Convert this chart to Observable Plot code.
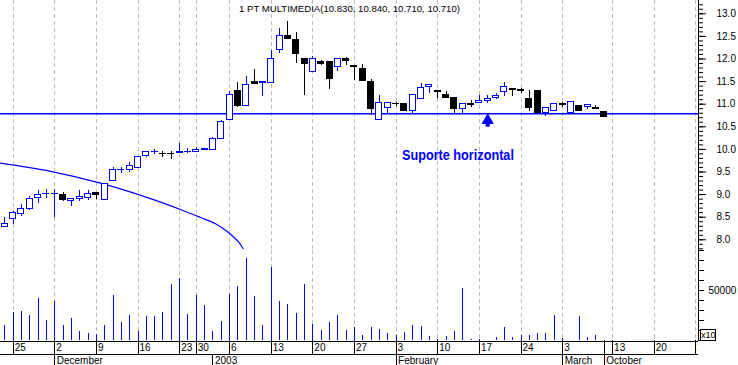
<!DOCTYPE html>
<html><head><meta charset="utf-8">
<script src="https://cdn.jsdelivr.net/npm/d3@7"></script>
<script src="https://cdn.jsdelivr.net/npm/@observablehq/plot@0.6"></script>
<style>
body{margin:0;background:#fff;}
#chart{width:738px;height:365px;position:relative;background:#fff;}
#chart svg{display:block;}
</style></head><body><div id="chart"></div>
<script>
const title = "1 PT MULTIMEDIA(10.830, 10.840, 10.710, 10.710)";
// daily OHLC + volume, index 0 = 22 Nov 2002
const openP = [8.28,8.45,8.57,8.68,8.93,9.015,9.015,9.00,8.86,8.90, 8.93,9.04,8.89,9.30,9.545,9.55,9.59,9.85,9.935,9.905, 9.905,9.93,9.945,9.94,9.98,9.99,10.23,10.66,11.30,10.95, 11.49,11.46,11.47,12.19,12.50,12.41,11.99,11.72,11.94,11.94, 11.82,12.00,11.835,11.78,11.49,10.66,10.92,11.005,11.00,10.86, 11.12,11.38,11.30,11.21,11.14,10.90,10.995,11.03,11.07,11.14, 11.28,11.34,11.305,11.12,11.29,10.80,10.84,10.995,10.80,10.97, 10.93,10.905,10.83];
const highP = [8.49,8.62,8.78,8.96,9.08,9.11,9.11,9.05,8.91,9.08, 9.08,9.05,9.24,9.59,9.61,9.70,9.85,9.95,9.99,9.96, 9.96,10.12,10.01,10.05,10.01,10.27,10.64,11.29,11.49,11.61, 11.76,11.50,12.19,12.67,12.84,12.58,11.99,12.05,11.97,11.94, 12.00,12.04,11.86,11.87,11.54,11.19,11.03,11.04,11.00,11.21, 11.45,11.43,11.30,11.29,11.14,11.01,11.08,11.19,11.19,11.23, 11.49,11.34,11.34,11.30,11.29,10.91,11.00,11.03,11.05,10.97, 10.99,10.97,10.84];
const lowP = [8.27,8.34,8.52,8.65,8.80,8.91,8.50,8.85,8.74,8.85, 8.87,8.89,8.89,9.30,9.46,9.48,9.59,9.81,9.88,9.81, 9.77,9.93,9.90,9.94,9.98,9.99,10.23,10.66,10.93,10.95, 11.44,11.16,11.47,12.13,12.45,11.89,11.19,11.72,11.86,11.32, 11.72,11.86,11.52,11.51,10.75,10.66,10.79,10.95,10.86,10.80, 11.12,11.24,11.12,11.13,10.79,10.79,10.93,11.03,11.01,11.10, 11.16,11.16,11.23,10.84,10.80,10.73,10.84,10.92,10.80,10.86, 10.88,10.90,10.71];
const closeP = [8.35,8.60,8.69,8.90,9.00,9.02,9.02,8.89,8.91,8.94, 9.02,9.00,9.24,9.55,9.55,9.63,9.84,9.94,9.94,9.90, 9.90,9.95,9.95,9.99,10.01,10.23,10.60,11.21,10.95,11.43, 11.44,11.49,12.00,12.50,12.45,12.10,11.89,12.00,11.89,11.55, 12.00,11.95,11.83,11.51,10.90,11.03,11.03,11.00,10.86,11.21, 11.36,11.43,11.27,11.13,10.90,11.01,10.99,11.08,11.12,11.19, 11.38,11.32,11.30,10.91,10.80,10.91,11.00,10.99,11.05,10.86, 10.99,10.90,10.71];
const volume = [15000,28300,29000,25000,42300,20000,39000,15000,22000,9300, 7000,6300,15000,45000,18300,25000,9000,24000,24000,28000, 56000,62000,26000,45000,35000,9000,19000,46000,54000,82300, 44000,15000,73000,39000,36000,27000,56000,16000,10000,18000, 25000,10000,13000,5000,13000,11000,7000,5000,8000,15000, 14000,4000,1500,4000,9000,52000,1000,1000,500,3000, 13000,3000,5000,5000,7300,6700,25000,1700,0,24000, 2700,5000,0];

// x-axis (trading-day index)
const dateIdx    = [1,6,11,16,21,23,27,32,37,42,47,52,57,62,67,72,73,78,83];
const dateLabels = ["25","2","9","16","23","30","6","13","20","27","3","10","17","24","3","","13","20","27"];
const monthIdx    = [6,25,47,67,72];
const monthLabels = ["December","2003","February","March","October"];

// right axes
const priceLabels = [8.0,8.5,9.0,9.5,10.0,10.5,11.0,11.5,12.0,12.5,13.0];
const priceMinor = d3.range(78, 133).map(v => v / 10);
const volumeTicks = [0,10000,20000,30000,40000,50000,60000,70000,80000,90000];
const volumeLabelTick = 50000;
const volumeUnit = "x10";

// annotations
const supportLevel = 10.79;
const curveIdx   = [-0.516,5.489,11.494,17.499,21.102,23.504,25.306,26.507,27.348,28.069,28.633];
const curvePrice = [9.695,9.514,9.253,8.912,8.671,8.494,8.355,8.211,8.085,7.952,7.802];
const note = "Suporte horizontal", noteIdx = 47.7, notePrice = 9.861;
const arrowIdx = 58, arrowHead = 10.64, arrowTail = 10.49;

const candles = openP.map((o, i) => ({i, o, h: highP[i], l: lowP[i], c: closeP[i], v: volume[i]}));
const curvePts = curveIdx.map((x, k) => ({x, y: curvePrice[k]}));
const gridIdx = dateIdx.filter((d, k) => dateLabels[k] !== "");

const W = 738, MR = 40;
const xDomain = [-0.5165, 83.318];
const BLUE = "#0000ff";
const GRID = "#bdbdbd";
const FONT = "'Liberation Sans', Arial, sans-serif";
const col = d => d.c >= d.o ? BLUE : "#000000";
const base = {width: W, marginLeft: 0, marginRight: MR, marginTop: 0, marginBottom: 0,
  style: {fontFamily: FONT, fontSize: "10px", color: "#000", background: "#fff", overflow: "visible"}};

const pricePlot = Plot.plot({
  ...base, height: 250,
  x: {domain: xDomain, axis: null},
  y: {domain: [7.763, 13.294], label: null},
  marks: [
    Plot.ruleX(gridIdx, {x: d => d, stroke: GRID, strokeDasharray: "4,3", shapeRendering: "crispEdges"}),
    Plot.ruleY([supportLevel], {y: d => d, stroke: BLUE, strokeWidth: 1.5}),
    Plot.line(curvePts, {x: "x", y: "y", stroke: BLUE, strokeWidth: 1.2, curve: "catmull-rom"}),
    Plot.ruleX(candles, {x: "i", y1: "l", y2: "h", stroke: col, shapeRendering: "crispEdges"}),
    Plot.rect(candles, {x1: d => d.i - 0.36, x2: d => d.i + 0.36, y1: "o", y2: "c",
      fill: d => d.c >= d.o ? "#ffffff" : "#000000", stroke: col, shapeRendering: "crispEdges"}),
    Plot.ruleX([arrowIdx], {x: d => d, y1: arrowTail, y2: arrowHead, stroke: BLUE, strokeWidth: 4}),
    Plot.dot([arrowIdx], {x: d => d, y: arrowHead, symbol: "triangle", r: 4.6, fill: BLUE, stroke: "none"}),
    Plot.text([note], {x: noteIdx, y: notePrice, text: d => d, textAnchor: "start", fontWeight: "bold",
      fontSize: 15, fill: BLUE, className: "note"}),
    Plot.text([title], {frameAnchor: "top", dy: 8.5, lineAnchor: "middle", text: d => d, fontSize: 9.6, fill: "#000"}),
    Plot.axisY(priceMinor, {anchor: "right", tickSize: 4, tickFormat: () => "", label: null}),
    Plot.axisY(priceLabels, {anchor: "right", tickSize: 7, tickPadding: 11, tickFormat: d3.format(".1f"), fontSize: 10, label: null}),
    Plot.frame({anchor: "right", stroke: "#000"})
  ]
});
// condensed look of the annotation (narrow bold face in the original)
d3.select(pricePlot).selectAll("g.note text").attr("textLength", 112).attr("lengthAdjust", "spacingAndGlyphs");

const volPlot = Plot.plot({
  ...base, height: 90,
  x: {domain: xDomain, axis: null},
  y: {domain: [0, 90000], label: null},
  marks: [
    Plot.ruleX(gridIdx, {x: d => d, stroke: GRID, strokeDasharray: "4,3", shapeRendering: "crispEdges"}),
    Plot.ruleX(candles, {x: "i", y1: 0, y2: "v", stroke: BLUE, shapeRendering: "crispEdges"}),
    Plot.axisY(volumeTicks, {anchor: "right", tickSize: 5, tickPadding: 5,
      tickFormat: d => d === volumeLabelTick ? String(d) : "", fontSize: 10, label: null}),
    Plot.frame({anchor: "right", stroke: "#000"}),
    Plot.rect([volumeUnit], {x1: 83.56, x2: 85.42, y1: 0, y2: 11000, fill: "#fff", stroke: "#000", shapeRendering: "crispEdges"}),
    Plot.text([volumeUnit], {x: 84.49, y: 5500, text: d => d, fontSize: 9, fill: "#000"})
  ]
});

// date axis rows (y in px rows of the 25px band)
const datePlot = Plot.plot({
  ...base, height: 25,
  x: {domain: xDomain, axis: null},
  y: {domain: [25, 0], axis: null},
  marks: [
    Plot.ruleY([0.5, 13.5], {y: d => d, stroke: "#000", shapeRendering: "crispEdges"}),
    Plot.ruleX(dateIdx, {x: d => d, y1: 0, y2: 13.5, stroke: "#000", shapeRendering: "crispEdges"}),
    Plot.ruleX(monthIdx, {x: d => d, y1: 13.5, y2: 25, stroke: "#000", shapeRendering: "crispEdges"}),
    Plot.text(dateIdx, {x: d => d, y: 6.8, text: (d, k) => dateLabels[k], dx: 1.5, textAnchor: "start", fontSize: 10, fill: "#000", clip: true}),
    Plot.text(monthIdx, {x: d => d, y: 19.8, text: (d, k) => monthLabels[k], dx: 2, textAnchor: "start", fontSize: 10, fill: "#000"})
  ]
});

const root = document.getElementById("chart");
root.append(pricePlot, volPlot, datePlot);
</script></body></html>
